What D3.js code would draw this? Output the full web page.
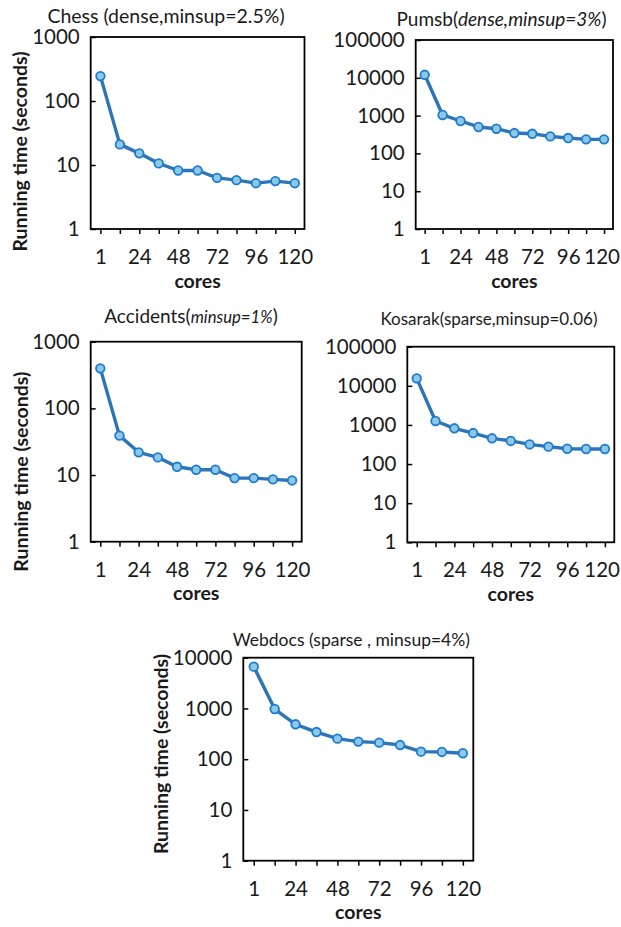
<!DOCTYPE html>
<html>
<head>
<meta charset="utf-8">
<script src="https://cdn.jsdelivr.net/npm/d3@7"></script>
<style>
  html, body { margin: 0; padding: 0; background: #ffffff; }
  svg { display: block; }
  text { font-family: Lato, "Open Sans", sans-serif; fill: #1a1a1a; }
</style>
</head>
<body>
<svg id="chart" width="621" height="927"></svg>
<script>
// ---------------- data ----------------
const cores = [1, 12, 24, 36, 48, 60, 72, 84, 96, 108, 120];
const coreTickLabels = ["1", "24", "48", "72", "96", "120"];

const chessTimes     = [245, 21, 15.2, 10.6, 8.2, 8.2, 6.3, 5.8, 5.2, 5.6, 5.2];
const pumsbTimes     = [12000, 1040, 720, 500, 450, 345, 330, 282, 255, 235, 235];
const accidentsTimes = [398, 39, 21.9, 18.4, 13.3, 12, 12, 9.0, 9.0, 8.6, 8.3];
const kosarakTimes   = [15500, 1260, 820, 620, 455, 390, 318, 279, 246, 243, 243];
const webdocsTimes   = [6670, 975, 487, 343, 254, 222, 212, 190, 141, 139, 131];

const ticks3 = [1, 10, 100, 1000];
const ticks4 = [1, 10, 100, 1000, 10000];
const ticks5 = [1, 10, 100, 1000, 10000, 100000];

const titleChess     = [{t: "Chess (dense,minsup=2.5%)"}];
const titlePumsb     = [{t: "Pumsb("}, {t: "dense,minsup=3%", italic: true}, {t: ")"}];
const titleAccidents = [{t: "Accidents("}, {t: "minsup=1%", italic: true, small: true}, {t: ")"}];
const titleKosarak   = [{t: "Kosarak(sparse,minsup=0.06)"}];
const titleWebdocs   = [{t: "Webdocs (sparse , minsup=4%)"}];

const yLabel = "Running time (seconds)";
const xLabel = "cores";

// ---------------- layout ----------------
const panels = [
  {values: chessTimes, ticks: ticks3, title: titleChess, titleSize: 19.5, titleX: 166, titleY: 22.5,
   box: [90.7, 37, 304.5, 229], yLab: {x: 27, y: 151.5}},
  {values: pumsbTimes, ticks: ticks5, title: titlePumsb, titleSize: 19, titleX: 501.5, titleY: 25.5,
   box: [415.7, 40, 613, 229], yLab: null},
  {values: accidentsTimes, ticks: ticks3, title: titleAccidents, titleSize: 19, titleX: 191, titleY: 323,
   box: [90.7, 341.7, 301.7, 541.7], yLab: {x: 28, y: 471.7}},
  {values: kosarakTimes, ticks: ticks5, title: titleKosarak, titleSize: 17, titleX: 489, titleY: 325,
   box: [407.3, 346.7, 614.3, 542.3], yLab: null},
  {values: webdocsTimes, ticks: ticks4, title: titleWebdocs, titleSize: 17.5, titleX: 351.3, titleY: 646,
   box: [243.3, 657.7, 473.3, 860.7], yLab: {x: 168, y: 754}}
];

const lineColor = "#2E75B6";
const markerFill = "#8DC8E4";
const markerStroke = "#1B7BD3";
const tickFont = 20.5;
const rightLimit = 620;

const svg = d3.select("#chart");

panels.forEach(p => {
  const [x0, y0, x1, y1] = p.box;
  const g = svg.append("g");

  const xBand = d3.scaleBand().domain(cores).range([x0, x1]).padding(0);
  const xPos = c => xBand(c) + xBand.bandwidth() / 2;
  const yMax = p.ticks[p.ticks.length - 1];
  const y = d3.scaleLog().domain([1, yMax]).range([y1, y0]);

  // y axis (ticks inside)
  const yAxis = d3.axisLeft(y).tickValues(p.ticks).tickSize(-5).tickPadding(11)
    .tickFormat(d3.format("d"));
  const ya = g.append("g").attr("transform", `translate(${x0},0)`).call(yAxis);
  ya.select(".domain").remove();
  ya.selectAll("line").attr("stroke", "#000").attr("stroke-width", 1.5);
  ya.selectAll("text").style("font-size", tickFont + "px").attr("fill", "#1a1a1a")
    .style("font-family", "Lato, sans-serif");

  // x axis (ticks outside, at points)
  const xPoint = d3.scalePoint().domain(cores).range([xPos(cores[0]), xPos(cores[cores.length - 1])]);
  const labelSet = new Set(coreTickLabels);
  const xAxis = d3.axisBottom(xPoint).tickValues(cores).tickSize(5).tickPadding(15.5)
    .tickFormat(d => labelSet.has(String(d)) ? String(d) : "");
  const xa = g.append("g").attr("transform", `translate(0,${y1})`).call(xAxis);
  xa.select(".domain").remove();
  xa.selectAll("line").attr("stroke", "#000").attr("stroke-width", 1.5);
  xa.selectAll("text").style("font-size", tickFont + "px").attr("fill", "#1a1a1a")
    .style("font-family", "Lato, sans-serif");
  // keep labels inside the page
  xa.selectAll(".tick").each(function() {
    const tick = d3.select(this);
    const txt = tick.select("text");
    const node = txt.node();
    if (!node || !node.textContent) return;
    const m = /translate\(([^,]+),/.exec(tick.attr("transform"));
    const cx = m ? +m[1] : 0;
    const w = node.getComputedTextLength();
    const over = cx + w / 2 - rightLimit;
    if (over > 0) txt.attr("x", -over);
  });

  // plot box
  g.append("rect").attr("x", x0).attr("y", y0).attr("width", x1 - x0).attr("height", y1 - y0)
    .attr("fill", "none").attr("stroke", "#000").attr("stroke-width", 1.8);

  // line
  const pts = cores.map((c, i) => [xPos(c), y(p.values[i])]);
  g.append("path").attr("d", d3.line()(pts)).attr("fill", "none")
    .attr("stroke", lineColor).attr("stroke-width", 3.4).attr("stroke-linejoin", "round");
  g.selectAll("circle.m").data(pts).join("circle").attr("class", "m")
    .attr("cx", d => d[0]).attr("cy", d => d[1]).attr("r", 4.3)
    .attr("fill", markerFill).attr("stroke", markerStroke).attr("stroke-width", 1.8);

  // title
  const tt = g.append("text").attr("x", p.titleX).attr("y", p.titleY)
    .attr("text-anchor", "middle").style("font-size", p.titleSize + "px");
  p.title.forEach(s => {
    const ts = tt.append("tspan").text(s.t);
    if (s.italic) ts.style("font-style", "italic");
    if (s.small) ts.style("font-size", (p.titleSize * 0.88) + "px");
  });

  // x label
  g.append("text").attr("x", (x0 + x1) / 2).attr("y", y1 + 58.5)
    .attr("text-anchor", "middle").style("font-size", "19.5px").style("font-weight", "bold")
    .text(xLabel);

  // y label
  if (p.yLab) {
    g.append("text").attr("transform", `translate(${p.yLab.x},${p.yLab.y}) rotate(-90)`)
      .attr("text-anchor", "middle").style("font-size", "19.5px").style("font-weight", "bold")
      .text(yLabel);
  }
});
</script>
</body>
</html>
